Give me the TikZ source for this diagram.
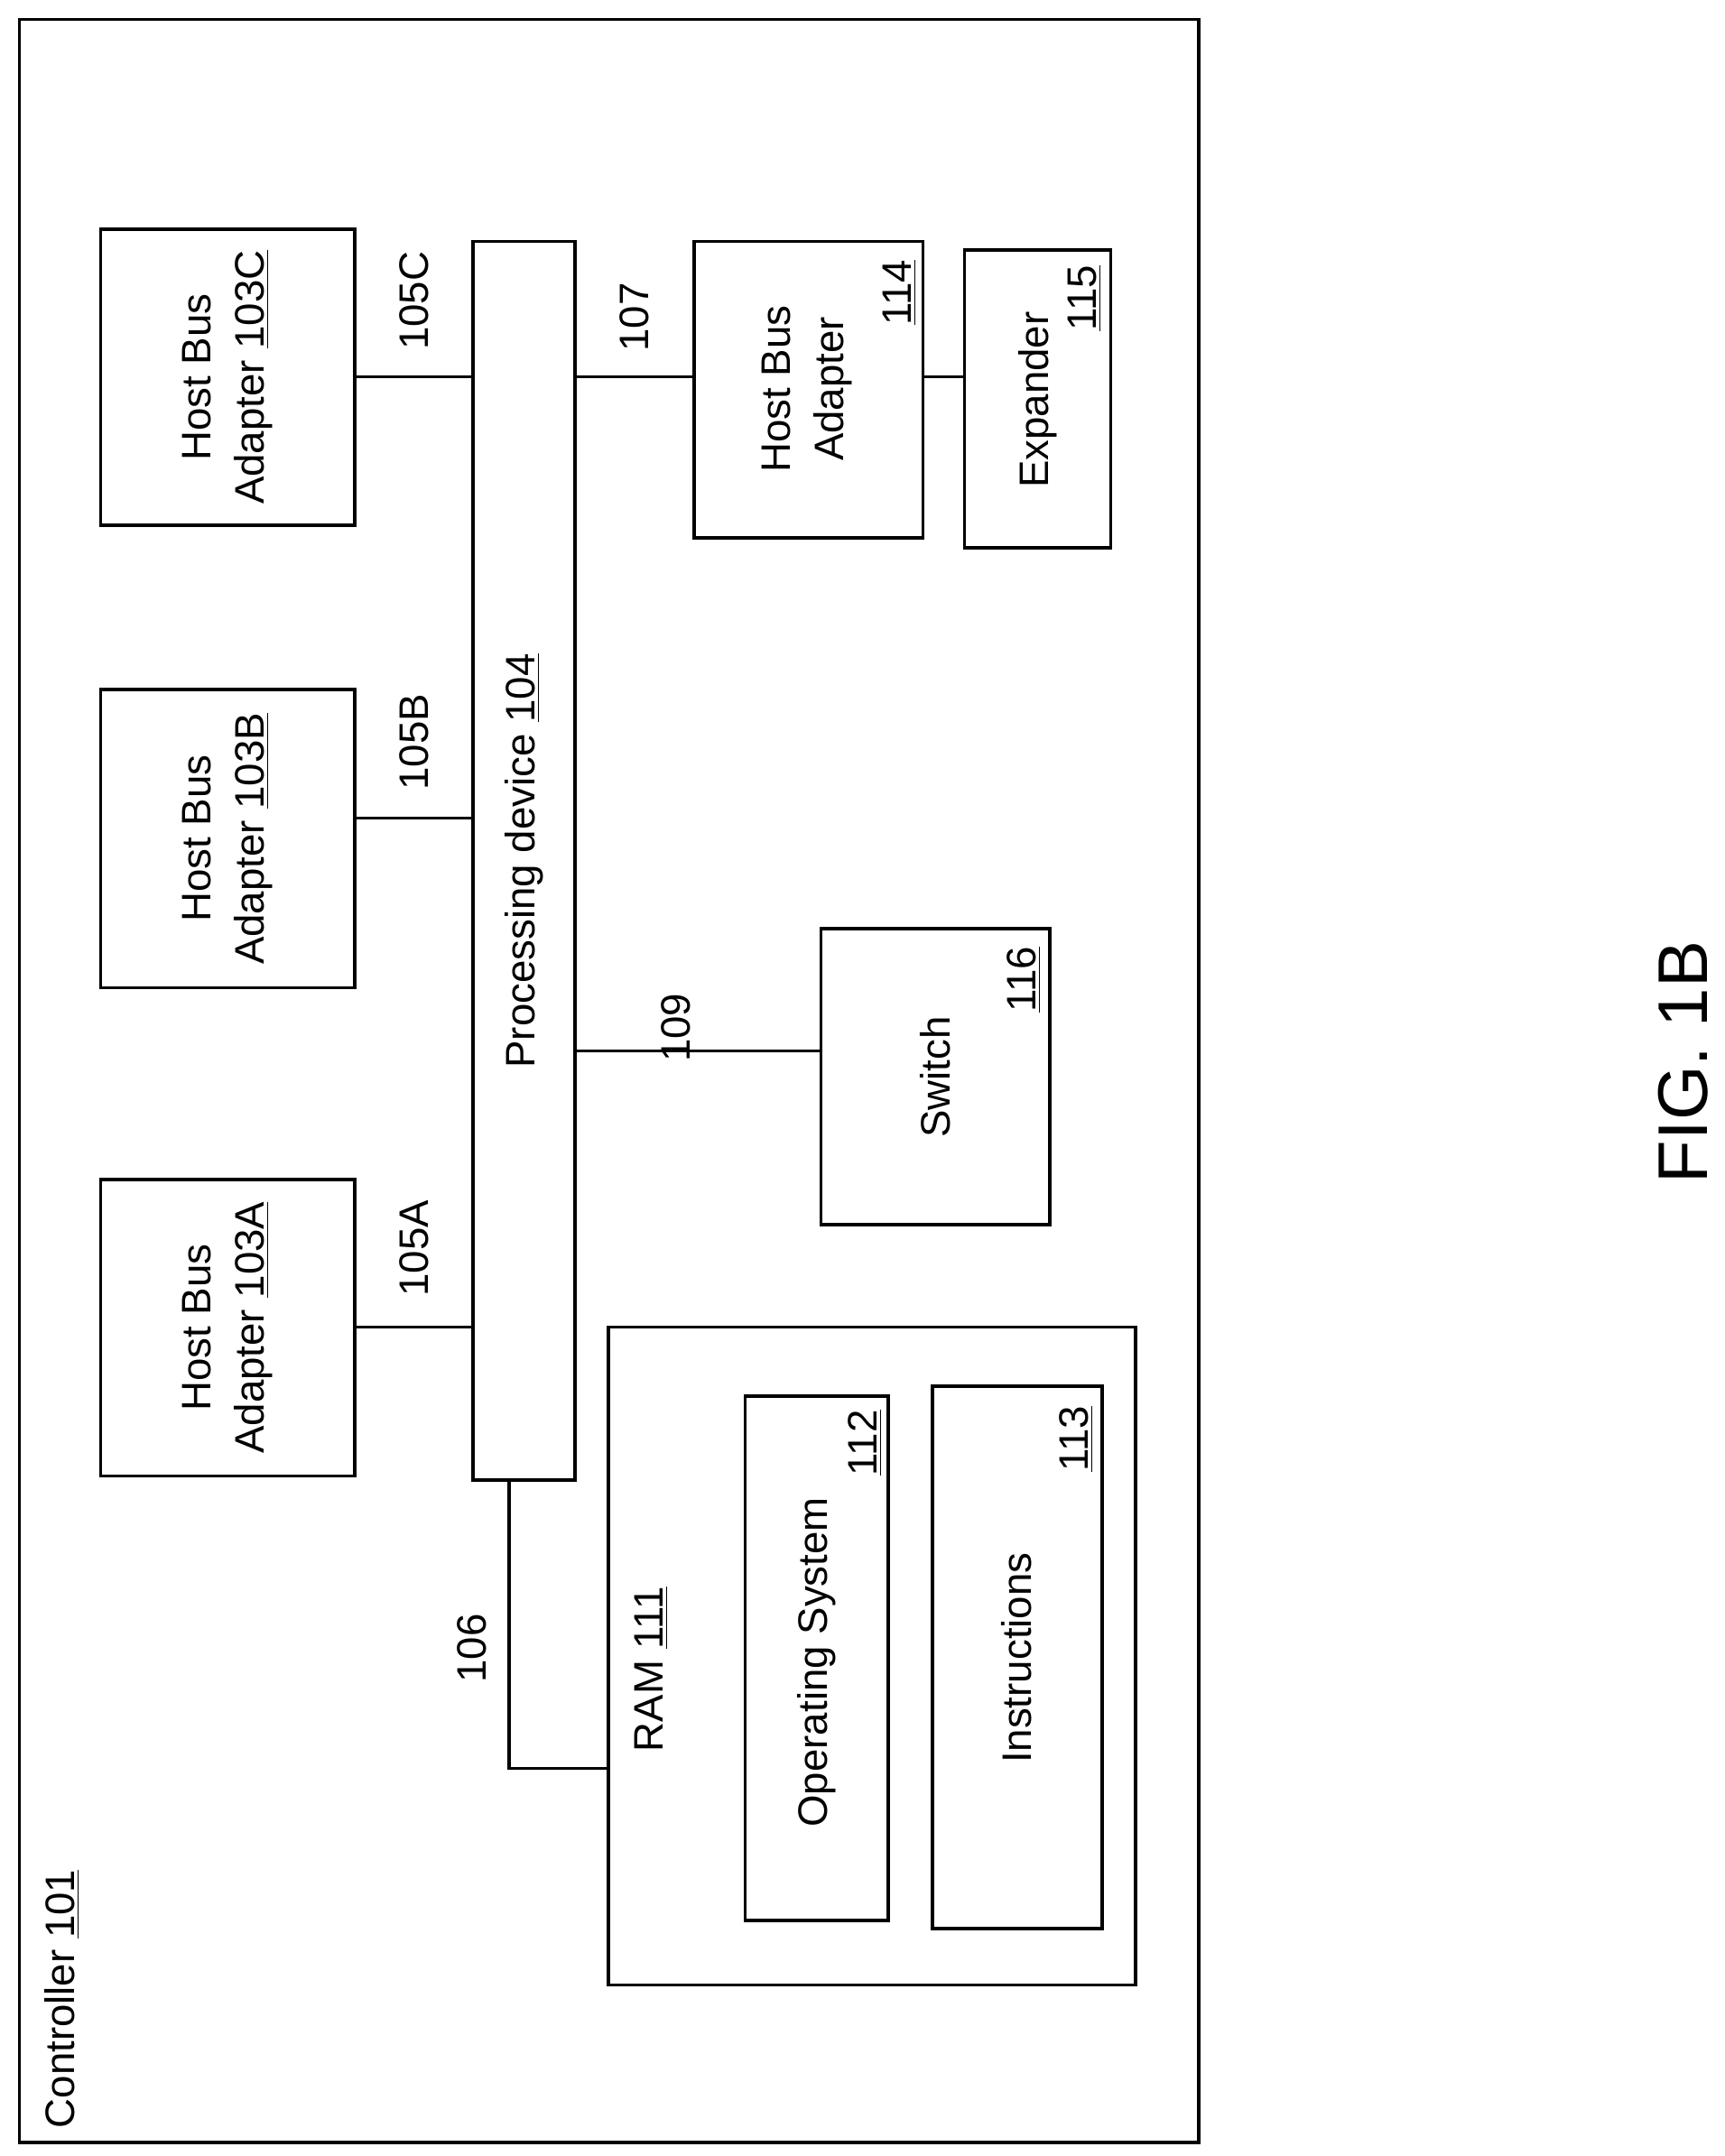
\documentclass[tikz,border=0pt]{standalone}
\usepackage{fontspec}
\setmainfont{Liberation Sans}
\usetikzlibrary{positioning}
\tikzset{
  box/.style={draw, line width=1.4pt, rectangle, inner sep=0pt},
  lbl/.style={rotate=90, font=\fontsize{17}{22}\selectfont, align=center, inner sep=1pt},
  wire/.style={line width=1.2pt}
}
\newcommand{\mkbox}[5]{%
  \node[box, minimum width={(#4-#2)*0.02cm}, minimum height={(#5-#3)*0.02cm}] (#1) at ({(#2+#4)/2},{(#3+#5)/2}) {};}
\begin{document}
\begin{tikzpicture}[x=0.02cm, y=-0.02cm]
  \useasboundingbox (0,0) rectangle (1250,1563);
  % boxes
  \mkbox{ctrl}{14}{14}{869}{1553}
  \mkbox{hbaC}{73}{166}{257}{381}
  \mkbox{hbaB}{73}{500}{257}{716}
  \mkbox{hbaA}{73}{855}{257}{1070}
  \mkbox{proc}{343}{175}{417}{1073}
  \mkbox{hbaD}{503}{175}{669}{390}
  \mkbox{exp}{699}{181}{805}{397}
  \mkbox{sw}{595}{673}{761}{888}
  \mkbox{ram}{441}{962}{823}{1439}
  \mkbox{os}{540}{1012}{644}{1392}
  \mkbox{ins}{676}{1005}{799}{1398}

  % texts
  \node[lbl, anchor=west] (ctrltxt) at (45,1545) {Controller \underline{101}};
  \node[lbl] (hbaCtxt) at (hbaC) {Host Bus\\Adapter \underline{103C}};
  \node[lbl] (hbaBtxt) at (hbaB) {Host Bus\\Adapter \underline{103B}};
  \node[lbl] (hbaAtxt) at (hbaA) {Host Bus\\Adapter \underline{103A}};
  \node[lbl] (proctxt) at (proc) {Processing device \underline{104}};
  \node[lbl] (hbaDtxt) at (585,282) {Host Bus\\Adapter};
  \node[lbl] (hbaDnum) at (652,212) {\underline{114}};
  \node[lbl] (exptxt) at (752,290) {Expander};
  \node[lbl] (expnum) at (786,216) {\underline{115}};
  \node[lbl] (swtxt) at (678,781) {Switch};
  \node[lbl] (swnum) at (742,710) {\underline{116}};
  \node[lbl] (ramtxt) at (472,1210) {RAM \underline{111}};
  \node[lbl] (ostxt) at (592,1205) {Operating System};
  \node[lbl] (osnum) at (627,1046) {\underline{112}};
  \node[lbl] (instxt) at (737,1202) {Instructions};
  \node[lbl] (insnum) at (780,1043) {\underline{113}};
  \node[rotate=90, font=\fontsize{29}{34}\selectfont] (fig) at (1220,770) {FIG. 1B};

  % connectors
  \draw[wire] (hbaC.east |- 0,273) -- (proc.west |- 0,273);
  \draw[wire] (hbaB.east |- 0,593) -- (proc.west |- 0,593);
  \draw[wire] (hbaA.east |- 0,962) -- (proc.west |- 0,962);
  \draw[wire] (proc.east |- 0,273) -- (hbaD.west |- 0,273);
  \draw[wire] (hbaD.east |- 0,273) -- (exp.west |- 0,273);
  \draw[wire] (proc.east |- 0,762) -- (sw.west |- 0,762);
  \draw[wire] (proc.south -| 369,0) -- (369,1282) -- (ram.west |- 0,1282);

  % bus labels
  \node[lbl] (l105C) at (300,218) {105C};
  \node[lbl] (l105B) at (300,538) {105B};
  \node[lbl] (l105A) at (300,905) {105A};
  \node[lbl] (l107) at (460,230) {107};
  \node[lbl] (l109) at (490,745) {109};
  \node[lbl] (l106) at (342,1195) {106};
\end{tikzpicture}
\end{document}
